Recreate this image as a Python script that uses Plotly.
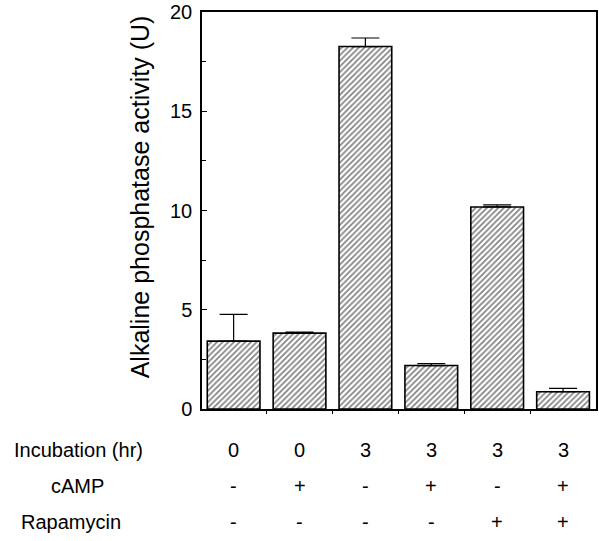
import plotly.graph_objects as go

# Data
groups = [0, 1, 2, 3, 4, 5]
activity = [3.42, 3.82, 18.26, 2.19, 10.18, 0.87]
err_up = [1.35, 0.06, 0.43, 0.10, 0.10, 0.17]
incubation = ["0", "0", "3", "3", "3", "3"]
camp = ["-", "+", "-", "+", "-", "+"]
rapamycin = ["-", "-", "-", "-", "+", "+"]
row_labels = ["Incubation (hr)", "cAMP", "Rapamycin"]
y_ticks = [0, 5, 10, 15, 20]

W, H = 599, 541
L, R, T, B = 202, 1, 12, 132
ph = H - T - B
pw = W - L - R

FONT = "Liberation Sans, Arial, sans-serif"

fig = go.Figure()
fig.add_trace(go.Bar(
    x=groups, y=activity,
    width=0.8,
    marker=dict(
        color="white",
        line=dict(color="black", width=1.6),
        pattern=dict(shape="/", size=4, solidity=0.4, fgcolor="black", bgcolor="white"),
    ),
    error_y=dict(type="data", array=err_up, arrayminus=[0]*6, symmetric=False,
                 color="black", thickness=1.2, width=14),
    showlegend=False,
))

# table annotations
rows = [incubation, camp, rapamycin]
row_px = [450, 486, 522]
label_cx = [78, 77, 70]
for ri, (vals, py) in enumerate(zip(rows, row_px)):
    yp = (H - B - py) / ph
    fig.add_annotation(x=(label_cx[ri] - L) / pw, y=yp, xref="paper", yref="paper",
                       text=row_labels[ri], showarrow=False,
                       font=dict(family=FONT, size=20, color="black"),
                       xanchor="center", yanchor="middle")
    for g, v in zip(groups, vals):
        fig.add_annotation(x=g, y=yp, xref="x", yref="paper", text=v, showarrow=False,
                           font=dict(family=FONT, size=20, color="black"),
                           xanchor="center", yanchor="middle")

# y-axis title
fig.add_annotation(x=(140 - L) / pw, y=(H - B - 197) / ph, xref="paper", yref="paper",
                   text="Alkaline phosphatase activity (U)", textangle=-90, showarrow=False,
                   font=dict(family=FONT, size=25, color="black"),
                   xanchor="center", yanchor="middle")

fig.update_layout(
    width=W, height=H,
    margin=dict(l=L, r=R, t=T, b=B),
    plot_bgcolor="white", paper_bgcolor="white",
    bargap=0.2,
)
fig.update_xaxes(range=[-0.48, 5.5], showgrid=False, zeroline=False,
                 showline=True, linecolor="black", linewidth=1.5, mirror=True,
                 tickmode="array", tickvals=[0.5, 1.5, 2.5, 3.5, 4.5], ticktext=[""]*5,
                 ticks="outside", ticklen=3, tickcolor="black", fixedrange=True)
fig.update_yaxes(range=[0, 20], showgrid=False, zeroline=False,
                 showline=True, linecolor="black", linewidth=1.5, mirror=True,
                 tickmode="array", tickvals=y_ticks,
                 ticks="inside", ticklen=5, tickcolor="black",
                 minor=dict(tickvals=[2.5, 7.5, 12.5, 17.5], ticks="inside", ticklen=4, tickcolor="black"),
                 tickfont=dict(family=FONT, size=20, color="black"), ticklabelstandoff=4)

fig.write_html("out.html")
